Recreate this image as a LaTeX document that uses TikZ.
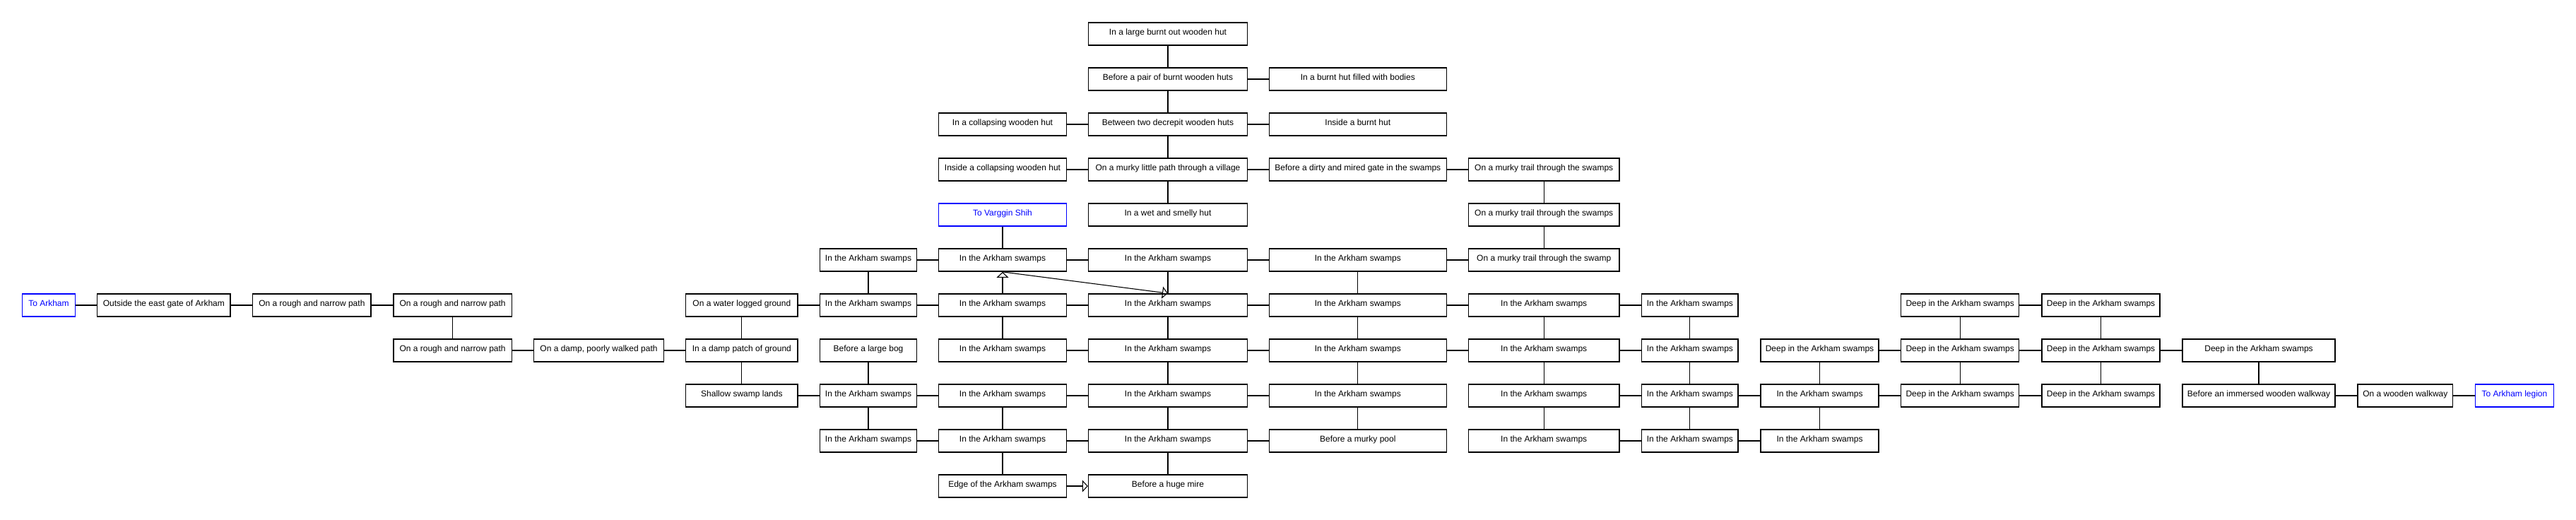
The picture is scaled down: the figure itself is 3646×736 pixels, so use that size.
\documentclass[tikz,border=0pt]{standalone}
\usepackage{fontspec}
\setmainfont{Liberation Sans}
\usetikzlibrary{arrows.meta}
\definecolor{portalblue}{RGB}{0,0,255}
\begin{document}
\begin{tikzpicture}[x=1pt,y=-1pt,
  box/.style={draw=black, line width=1.4pt, rectangle, minimum height=32.3pt, inner sep=0pt,
              text height=9pt, text depth=7pt, font=\fontsize{12}{14}\selectfont},
  portal/.style={box, draw=portalblue, text=portalblue},
  link/.style={line width=1.1pt},
  oneway/.style={link, -{Triangle[open, length=8pt, width=17pt, line width=1.1pt]}},
  wXa/.style={minimum width=74.6pt},
  wXb/.style={minimum width=188.3pt},
  wR/.style={minimum width=167.4pt},
  wXc/.style={minimum width=183.6pt},
  wW/.style={minimum width=158.3pt},
  wA/.style={minimum width=136.6pt},
  wB/.style={minimum width=180.6pt},
  wC/.style={minimum width=225pt},
  wD/.style={minimum width=251pt},
  wE/.style={minimum width=213.7pt},
  wF/.style={minimum width=136.3pt},
  wG/.style={minimum width=167pt},
  wJ/.style={minimum width=216pt},
  wK/.style={minimum width=134.7pt},
  wL/.style={minimum width=110.8pt}
]
\useasboundingbox (0,0) rectangle (3646,736);

% left chain
\node[portal,wXa] (x1) at (69,432) {To Arkham};
\node[box,wXb] (x2) at (231.85,432) {Outside the east gate of Arkham};
\node[box,wR] (x3) at (441.4,432) {On a rough and narrow path};
\node[box,wR] (x4a) at (640.6,432) {On a rough and narrow path};
\node[box,wR] (x4b) at (640.6,496) {On a rough and narrow path};
\node[box,wXc] (x5) at (847.5,496) {On a damp, poorly walked path};
\node[box,wW] (wa) at (1049.85,432) {On a water logged ground};
\node[box,wW] (wb) at (1049.85,496) {In a damp patch of ground};
\node[box,wW] (wc) at (1049.85,560) {Shallow swamp lands};

% column A
\node[box,wA] (a5) at (1229,368) {In the Arkham swamps};
\node[box,wA] (a6) at (1229,432) {In the Arkham swamps};
\node[box,wA] (a7) at (1229,496) {Before a large bog};
\node[box,wA] (a8) at (1229,560) {In the Arkham swamps};
\node[box,wA] (a9) at (1229,624) {In the Arkham swamps};

% column B
\node[box,wB] (b2) at (1419,176) {In a collapsing wooden hut};
\node[box,wB] (b3) at (1419,240) {Inside a collapsing wooden hut};
\node[portal,wB] (b4) at (1419,304) {To Varggin Shih};
\node[box,wB] (b5) at (1419,368) {In the Arkham swamps};
\node[box,wB] (b6) at (1419,432) {In the Arkham swamps};
\node[box,wB] (b7) at (1419,496) {In the Arkham swamps};
\node[box,wB] (b8) at (1419,560) {In the Arkham swamps};
\node[box,wB] (b9) at (1419,624) {In the Arkham swamps};
\node[box,wB] (b10) at (1419,688) {Edge of the Arkham swamps};

% column C
\node[box,wC] (c0) at (1653,48) {In a large burnt out wooden hut};
\node[box,wC] (c1) at (1653,112) {Before a pair of burnt wooden huts};
\node[box,wC] (c2) at (1653,176) {Between two decrepit wooden huts};
\node[box,wC] (c3) at (1653,240) {On a murky little path through a village};
\node[box,wC] (c4) at (1653,304) {In a wet and smelly hut};
\node[box,wC] (c5) at (1653,368) {In the Arkham swamps};
\node[box,wC] (c6) at (1653,432) {In the Arkham swamps};
\node[box,wC] (c7) at (1653,496) {In the Arkham swamps};
\node[box,wC] (c8) at (1653,560) {In the Arkham swamps};
\node[box,wC] (c9) at (1653,624) {In the Arkham swamps};
\node[box,wC] (c10) at (1653,688) {Before a huge mire};

% column D
\node[box,wD] (d1) at (1921.8,112) {In a burnt hut filled with bodies};
\node[box,wD] (d2) at (1921.8,176) {Inside a burnt hut};
\node[box,wD] (d3) at (1921.8,240) {Before a dirty and mired gate in the swamps};
\node[box,wD] (d5) at (1921.8,368) {In the Arkham swamps};
\node[box,wD] (d6) at (1921.8,432) {In the Arkham swamps};
\node[box,wD] (d7) at (1921.8,496) {In the Arkham swamps};
\node[box,wD] (d8) at (1921.8,560) {In the Arkham swamps};
\node[box,wD] (d9) at (1921.8,624) {Before a murky pool};

% column E
\node[box,wE] (e3) at (2185.2,240) {On a murky trail through the swamps};
\node[box,wE] (e4) at (2185.2,304) {On a murky trail through the swamps};
\node[box,wE] (e5) at (2185.2,368) {On a murky trail through the swamp};
\node[box,wE] (e6) at (2185.2,432) {In the Arkham swamps};
\node[box,wE] (e7) at (2185.2,496) {In the Arkham swamps};
\node[box,wE] (e8) at (2185.2,560) {In the Arkham swamps};
\node[box,wE] (e9) at (2185.2,624) {In the Arkham swamps};

% column F
\node[box,wF] (f6) at (2391.9,432) {In the Arkham swamps};
\node[box,wF] (f7) at (2391.9,496) {In the Arkham swamps};
\node[box,wF] (f8) at (2391.9,560) {In the Arkham swamps};
\node[box,wF] (f9) at (2391.9,624) {In the Arkham swamps};

% column G
\node[box,wG] (g7) at (2575.5,496) {Deep in the Arkham swamps};
\node[box,wG] (g8) at (2575.5,560) {In the Arkham swamps};
\node[box,wG] (g9) at (2575.5,624) {In the Arkham swamps};

% column H
\node[box,wG] (h6) at (2774.2,432) {Deep in the Arkham swamps};
\node[box,wG] (h7) at (2774.2,496) {Deep in the Arkham swamps};
\node[box,wG] (h8) at (2774.2,560) {Deep in the Arkham swamps};

% column I
\node[box,wG] (i6) at (2973.5,432) {Deep in the Arkham swamps};
\node[box,wG] (i7) at (2973.5,496) {Deep in the Arkham swamps};
\node[box,wG] (i8) at (2973.5,560) {Deep in the Arkham swamps};

% right end
\node[box,wJ] (j7) at (3197,496) {Deep in the Arkham swamps};
\node[box,wJ] (j8) at (3197,560) {Before an immersed wooden walkway};
\node[box,wK] (k8) at (3404.3,560) {On a wooden walkway};
\node[portal,wL] (l8) at (3558.9,560) {To Arkham legion};

% connectors
\foreach \p/\q in {x1/x2, x2/x3, x3/x4a, x4a/x4b, x4b/x5, x5/wb, wa/wb, wb/wc, wa/a6, wc/a8,
  a5/b5, a5/a6, a6/b6, b5/c5, b4/b5, c5/c6, b6/c6, b6/b7, b7/c7, a7/a8, a8/b8, a8/a9,
  b8/c8, b8/b9, a9/b9, b9/c9, b9/b10, c6/c7, c7/c8, c8/c9, c9/c10,
  c0/c1, c1/c2, c2/c3, c3/c4, b2/c2, b3/c3, c1/d1, c2/d2, c3/d3, d3/e3, e3/e4, e4/e5,
  c5/d5, d5/e5, d5/d6, c6/d6, d6/e6, e6/f6, d6/d7, e6/e7, f6/f7, c7/d7, d7/e7, e7/f7,
  d7/d8, e7/e8, f7/f8, c8/d8, e8/f8, f8/g8, d8/d9, e8/e9, f8/f9, c9/d9, e9/f9, f9/g9,
  g7/g8, g8/g9, g7/h7, g8/h8, h6/h7, h7/h8, h6/i6, h7/i7, h8/i8, i6/i7, i7/i8, i7/j7,
  j7/j8, j8/k8, k8/l8}
  \draw[link] (\p) -- (\q);

\draw[oneway] (b6) -- (b5);
\draw[oneway] (b5.south) -- (c6.north);
\draw[oneway] (b10) -- (c10);
\end{tikzpicture}
\end{document}
